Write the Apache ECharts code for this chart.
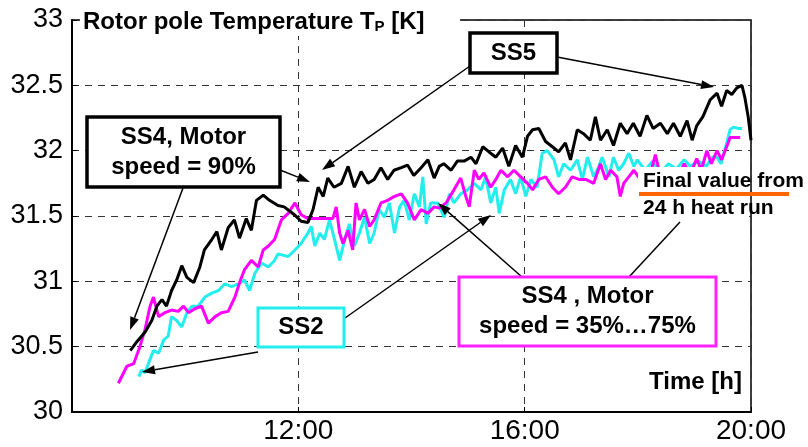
<!DOCTYPE html>
<html>
<head>
<meta charset="utf-8">
<script src="https://cdn.jsdelivr.net/npm/echarts@6/dist/echarts.min.js"></script>
<style>
  html, body { margin: 0; padding: 0; background: #fff; }
  #chart { width: 808px; height: 447px; }
</style>
</head>
<body>
<div id="chart"></div>
<script>
// time in hours of day, temperatures in K
const ss5Time = [9.03, 9.15, 9.29, 9.41, 9.50, 9.59, 9.67, 9.76, 9.85, 9.94, 10.03, 10.15, 10.26, 10.34, 10.47, 10.56, 10.64, 10.76, 10.87, 10.96, 11.08, 11.17, 11.26, 11.38, 11.49, 11.64, 11.75, 11.93, 12.05, 12.17, 12.26, 12.35, 12.44, 12.52, 12.63, 12.76, 12.88, 12.99, 13.11, 13.23, 13.34, 13.46, 13.58, 13.69, 13.82, 13.93, 14.04, 14.17, 14.29, 14.40, 14.49, 14.57, 14.70, 14.81, 14.93, 15.05, 15.14, 15.26, 15.37, 15.49, 15.61, 15.72, 15.84, 15.96, 16.05, 16.14, 16.25, 16.37, 16.49, 16.60, 16.72, 16.81, 16.93, 17.04, 17.16, 17.25, 17.34, 17.46, 17.57, 17.69, 17.81, 17.92, 18.04, 18.16, 18.27, 18.40, 18.52, 18.63, 18.75, 18.87, 18.96, 19.04, 19.15, 19.28, 19.40, 19.48, 19.57, 19.66, 19.75, 19.84, 19.89, 19.95, 20.00];
const ss5Temp = [30.47, 30.54, 30.61, 30.70, 30.81, 30.86, 30.81, 30.93, 31.01, 31.12, 31.03, 30.99, 31.11, 31.24, 31.32, 31.38, 31.24, 31.41, 31.47, 31.33, 31.48, 31.39, 31.62, 31.66, 31.62, 31.58, 31.57, 31.51, 31.46, 31.45, 31.55, 31.72, 31.65, 31.79, 31.72, 31.75, 31.88, 31.72, 31.84, 31.75, 31.78, 31.87, 31.78, 31.85, 31.87, 31.89, 31.81, 31.87, 31.93, 31.79, 31.88, 31.90, 31.85, 31.92, 31.92, 31.95, 31.90, 32.03, 31.99, 31.95, 32.02, 31.88, 32.04, 31.95, 32.11, 32.16, 32.17, 32.07, 32.03, 31.99, 32.06, 31.93, 32.16, 32.13, 32.08, 32.26, 32.08, 32.16, 32.04, 32.21, 32.13, 32.21, 32.11, 32.27, 32.17, 32.21, 32.13, 32.21, 32.11, 32.23, 32.08, 32.19, 32.26, 32.39, 32.44, 32.34, 32.46, 32.43, 32.48, 32.50, 32.41, 32.26, 32.08];

const ss4Time = [8.82, 8.97, 9.09, 9.20, 9.29, 9.38, 9.44, 9.53, 9.64, 9.76, 9.88, 9.97, 10.06, 10.17, 10.29, 10.41, 10.53, 10.64, 10.76, 10.88, 10.97, 11.05, 11.17, 11.29, 11.38, 11.47, 11.58, 11.70, 11.82, 11.94, 12.05, 12.17, 12.61, 12.67, 12.73, 12.79, 12.88, 12.96, 13.02, 13.08, 13.17, 13.26, 13.34, 13.46, 13.58, 13.70, 13.82, 13.93, 14.05, 14.17, 14.29, 14.40, 14.49, 14.61, 14.75, 14.87, 14.96, 15.02, 15.11, 15.19, 15.28, 15.40, 15.49, 15.58, 15.70, 15.81, 15.93, 16.05, 16.14, 16.25, 16.37, 16.49, 16.60, 16.72, 16.84, 16.96, 17.08, 17.22, 17.34, 17.43, 17.52, 17.63, 17.69, 17.75, 17.84, 17.93, 18.01, 18.13, 18.22, 18.31, 18.40, 18.50, 18.61, 18.71, 18.82, 18.93, 19.04, 19.12, 19.22, 19.30, 19.40, 19.48, 19.57, 19.63, 19.75, 19.81];
const ss4Temp = [30.22, 30.35, 30.37, 30.50, 30.63, 30.81, 30.88, 30.73, 30.76, 30.78, 30.77, 30.81, 30.76, 30.79, 30.81, 30.68, 30.73, 30.76, 30.77, 30.88, 31.00, 31.09, 31.16, 31.11, 31.24, 31.27, 31.32, 31.47, 31.52, 31.60, 31.51, 31.48, 31.48, 31.57, 31.37, 31.29, 31.39, 31.24, 31.60, 31.47, 31.55, 31.42, 31.47, 31.60, 31.62, 31.65, 31.67, 31.60, 31.47, 31.55, 31.52, 31.57, 31.56, 31.60, 31.70, 31.79, 31.65, 31.57, 31.85, 31.78, 31.83, 31.72, 31.78, 31.85, 31.80, 31.85, 31.80, 31.75, 31.70, 31.78, 31.80, 31.72, 31.67, 31.72, 31.80, 31.78, 31.78, 31.75, 31.90, 31.78, 31.85, 31.80, 31.65, 31.75, 31.80, 31.85, 31.80, 31.75, 31.82, 31.97, 31.80, 31.78, 31.85, 31.80, 31.90, 31.82, 31.94, 31.85, 32.00, 31.90, 32.00, 31.93, 32.03, 32.10, 32.10, 32.10];

const ss2Time = [9.18, 9.23, 9.29, 9.35, 9.44, 9.53, 9.62, 9.70, 9.76, 9.85, 9.94, 10.03, 10.12, 10.23, 10.35, 10.47, 10.59, 10.70, 10.82, 10.94, 11.05, 11.14, 11.23, 11.35, 11.47, 11.58, 11.64, 11.82, 11.94, 12.05, 12.17, 12.23, 12.29, 12.38, 12.46, 12.55, 12.64, 12.73, 12.82, 12.90, 12.99, 13.08, 13.17, 13.26, 13.34, 13.43, 13.52, 13.61, 13.70, 13.79, 13.87, 13.96, 14.05, 14.14, 14.20, 14.26, 14.34, 14.46, 14.58, 14.67, 14.75, 14.87, 14.99, 15.11, 15.23, 15.31, 15.40, 15.49, 15.55, 15.64, 15.75, 15.84, 15.93, 16.02, 16.11, 16.22, 16.31, 16.40, 16.52, 16.60, 16.69, 16.81, 16.93, 17.02, 17.11, 17.22, 17.31, 17.37, 17.49, 17.57, 17.66, 17.75, 17.84, 17.93, 17.99, 18.13, 18.26, 18.40, 18.54, 18.68, 18.82, 18.93, 19.07, 19.21, 19.31, 19.40, 19.47, 19.57, 19.63, 19.69, 19.78, 19.84];
const ss2Temp = [30.27, 30.32, 30.30, 30.37, 30.47, 30.45, 30.55, 30.58, 30.73, 30.70, 30.65, 30.76, 30.81, 30.81, 30.88, 30.91, 30.93, 30.98, 30.96, 30.98, 31.01, 30.93, 31.06, 31.14, 31.11, 31.16, 31.21, 31.19, 31.24, 31.29, 31.37, 31.42, 31.27, 31.37, 31.32, 31.47, 31.32, 31.16, 31.32, 31.44, 31.27, 31.37, 31.49, 31.29, 31.37, 31.55, 31.49, 31.60, 31.37, 31.57, 31.62, 31.47, 31.67, 31.57, 31.80, 31.44, 31.60, 31.60, 31.49, 31.67, 31.60, 31.67, 31.70, 31.75, 31.70, 31.80, 31.60, 31.72, 31.52, 31.70, 31.78, 31.67, 31.80, 31.65, 31.78, 31.72, 31.98, 32.00, 31.93, 31.80, 31.90, 31.85, 31.93, 31.78, 31.95, 31.80, 31.88, 31.95, 31.80, 31.95, 31.85, 31.90, 31.98, 31.88, 31.93, 31.85, 31.92, 31.83, 31.90, 31.86, 31.93, 31.88, 31.92, 31.88, 31.95, 31.95, 31.90, 32.06, 32.16, 32.18, 32.17, 32.17];

const xTicks = [8, 12, 16, 20];
const yMin = 30, yMax = 33, yStep = 0.5;

const pair = (t, v) => t.map((x, i) => [x, v[i]]);
const font = "'Liberation Sans', Arial, sans-serif";

const myChart = echarts.init(document.getElementById("chart"));

// arrow = line + filled head, pixel coords
function arrow(x1, y1, x2, y2, head) {
    const a = Math.atan2(y2 - y1, x2 - x1);
    const L = head ? 13 : 0, W = 4.5;
    const bx = x2 - L * Math.cos(a), by = y2 - L * Math.sin(a);
    const out = [{
        type: "line", z: 100,
        shape: { x1: x1, y1: y1, x2: bx, y2: by },
        style: { stroke: "#000", lineWidth: 1.5 },
    }];
    if (head) {
        out.push({
            type: "polygon", z: 100,
            shape: { points: [[x2, y2], [bx + W * Math.sin(a), by - W * Math.cos(a)], [bx - W * Math.sin(a), by + W * Math.cos(a)]] },
            style: { fill: "#000" },
        });
    }
    return out;
}

function box(x, y, w, h, color, lw, lines, lh) {
    const els = [{
        type: "rect", z: 100,
        shape: { x: x, y: y, width: w, height: h },
        style: { fill: "#fff", stroke: color, lineWidth: lw },
    }];
    const cy = y + h / 2 - (lines.length - 1) * lh / 2;
    lines.forEach((t, i) => {
        els.push({
            type: "text", z: 101,
            x: x + w / 2, y: cy + i * lh,
            style: { text: t, fill: "#000", font: "bold 24px " + font, align: "center", verticalAlign: "middle" },
        });
    });
    return els;
}

const graphics = [].concat(
    // white backing behind title and heat-run note
    [{ type: "rect", z: 99, shape: { x: 80, y: 4, width: 380, height: 32 }, style: { fill: "#fff" } }],
    [{
        type: "text", z: 101, x: 83, y: 22,
        style: {
            text: "Rotor pole Temperature T{sub|P} [K]",
            font: "bold 24px " + font, fill: "#000", verticalAlign: "middle",
            rich: { sub: { font: "bold 15px " + font, fill: "#000", verticalAlign: "bottom", lineHeight: 13 } },
        },
    }],
    arrow(470, 66, 322, 170, true),
    arrow(557, 57, 714, 87, true),
    arrow(280, 170, 310, 182, true),
    arrow(183, 188, 130, 330, true),
    arrow(258, 352, 142, 372, true),
    arrow(345, 318, 491, 215, true),
    arrow(522, 277, 438, 203, true),
    arrow(629, 277, 680, 222, false),
    box(470, 33, 87, 40, "#000", 3.5, ["SS5"], 30),
    box(87, 117, 193, 70, "#000", 3.5, ["SS4, Motor", "speed = 90%"], 30),
    box(258, 308, 86, 39, "#22eeee", 3, ["SS2"], 30),
    box(459, 277, 257, 69, "#ff22ff", 3, ["SS4 , Motor", "speed = 35%\u202675%"], 30),
    [{ type: "rect", z: 99, shape: { x: 638, y: 167, width: 111, height: 50 }, style: { fill: "#fff" } }],
    [{ type: "text", z: 101, x: 643, y: 181, style: { text: "Final value from", font: "bold 21px " + font, fill: "#000", verticalAlign: "middle" } }],
    [{ type: "line", z: 101, shape: { x1: 639, y1: 194, x2: 789, y2: 194 }, style: { stroke: "#ff6600", lineWidth: 4 } }],
    [{ type: "text", z: 101, x: 643, y: 208, style: { text: "24 h heat run", font: "bold 21px " + font, fill: "#000", verticalAlign: "middle" } }],
    [{ type: "text", z: 101, x: 742, y: 382, style: { text: "Time [h]", font: "bold 24px " + font, fill: "#000", align: "right", verticalAlign: "middle" } }]
);

const lineSeries = (name, data, color) => ({
    name: name,
    type: "line",
    data: data,
    showSymbol: false,
    animation: false,
    lineStyle: { color: color, width: 3 },
});

const option = {
    animation: false,
    grid: {
        left: 72, right: 57, top: 20, bottom: 35,
        show: true, borderColor: "#000", borderWidth: 1.5,
    },
    xAxis: {
        type: "value",
        min: xTicks[0], max: xTicks[xTicks.length - 1], interval: 4,
        axisLine: { onZero: false, lineStyle: { color: "#000", width: 2 } },
        axisTick: { inside: true, length: 5, lineStyle: { color: "#000" } },
        axisLabel: {
            color: "#000", fontFamily: font, fontSize: 28, margin: 5,
            formatter: (v) => (v === xTicks[0] ? "" : v + ":00"),
        },
        splitLine: { show: true, lineStyle: { type: [7, 6], color: "#333", width: 1 } },
    },
    yAxis: {
        type: "value",
        min: yMin, max: yMax, interval: yStep,
        axisLine: { show: true, lineStyle: { color: "#000", width: 2 } },
        axisTick: { show: true, inside: true, length: 5, lineStyle: { color: "#000" } },
        axisLabel: { color: "#000", fontFamily: font, fontSize: 27, margin: 9 },
        splitLine: { show: true, lineStyle: { type: [7, 6], color: "#333", width: 1 } },
    },
    series: [
        lineSeries("SS2", pair(ss2Time, ss2Temp), "#22eeee"),
        lineSeries("SS4 35-75%", pair(ss4Time, ss4Temp), "#ff00ff"),
        lineSeries("SS5", pair(ss5Time, ss5Temp), "#000"),
    ],
    graphic: graphics,
};

myChart.setOption(option);
</script>
</body>
</html>
